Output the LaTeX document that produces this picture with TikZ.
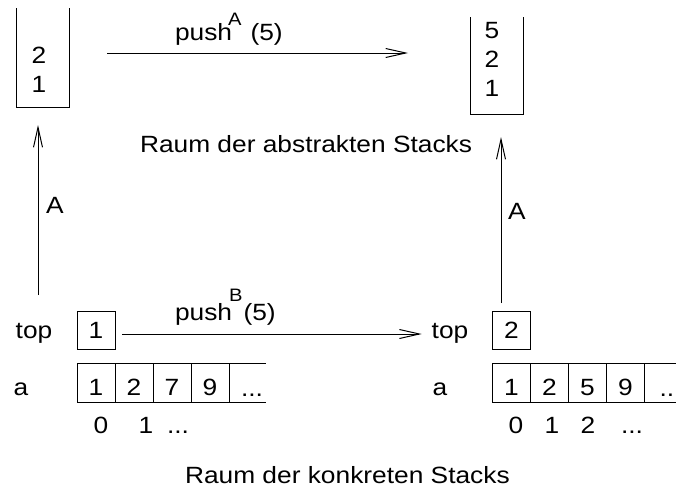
\documentclass[tikz,border=0pt]{standalone}
\usepackage{fontspec}
\setmainfont{Liberation Sans}[FakeStretch=1.12]
\usetikzlibrary{arrows.meta,positioning,calc}
\newcommand{\mainsize}{\fontsize{23.5}{28}\selectfont}
\newcommand{\supsize}{\fontsize{18}{20}\selectfont}
\begin{document}
\begin{tikzpicture}[x=1pt,y=-1pt,line width=1pt,
  every node/.style={inner sep=0pt,outer sep=0pt,font=\mainsize},
  txt/.style={anchor=base},
  stackbox/.style={minimum width=53pt},
  topbox/.style={draw,minimum width=38pt,minimum height=38pt,text height=17pt,text depth=1pt},
  cell/.style={draw,minimum width=38pt,minimum height=39pt,text height=27pt,text depth=1pt},
  arr/.style={-{Straight Barb[length=20pt,width=9pt]}}]
\useasboundingbox (0,0) rectangle (676,488);

% abstract stacks (open boxes)
\node[stackbox,minimum height=99pt] (absL) at (42.5,57.5) {};
\draw (absL.north west) |- (absL.south east) -- (absL.north east);
\node[txt] (l2) at (39,63) {2};
\node[txt] (l1) at (39,92) {1};

\node[stackbox,minimum height=97pt] (absR) at (496.5,65.5) {};
\draw (absR.north west) |- (absR.south east) -- (absR.north east);
\node[txt] (r5) at (492,38) {5};
\node[txt] (r2) at (492,67) {2};
\node[txt] (r1) at (492,96) {1};

% push on abstract stacks
\draw[arr] ([xshift=38pt,yshift=4.5pt]absL.east) -- ([xshift=-62pt,yshift=12.5pt]absR.west);
\node[anchor=base west] (pushA) at (175,40) {push\kern-4pt\raisebox{15pt}{\supsize A}\kern9pt(5)};

\node[anchor=base west] (abstr) at (140,152) {Raum der abstrakten Stacks};

% concrete stack, left
\node[txt] (topwL) at (34,338) {top};
\node[topbox] (topL) at (96,330) {1};
\node[txt] (awL) at (21,395) {a};
\node[cell] (la0) at (96,382.5) {1};
\node[cell,right=0pt of la0] (la1) {2};
\node[cell,right=0pt of la1] (la2) {7};
\node[cell,right=0pt of la2] (la3) {9};
\draw (la3.north east) -- ++(37,0);
\draw (la3.south east) -- ++(37,0);
\node[txt] (ladots) at (252,396) {...};
\node[txt] (li0) at (101,433) {0};
\node[txt] (li1) at (146,433) {1};
\node[txt] (lidots) at (178,433) {...};

% concrete stack, right
\node[txt] (topwR) at (450,338) {top};
\node[topbox] (topR) at (511.5,330) {2};
\node[txt] (awR) at (440,395) {a};
\node[cell] (ra0) at (511.5,382.5) {1};
\node[cell,right=0pt of ra0] (ra1) {2};
\node[cell,right=0pt of ra1] (ra2) {5};
\node[cell,right=0pt of ra2] (ra3) {9};
\draw (ra3.north east) -- ++(50,0);
\draw (ra3.south east) -- ++(50,0);
\node[txt] (radots) at (670.5,396) {...};
\node[txt] (ri0) at (516,433) {0};
\node[txt] (ri1) at (552,433) {1};
\node[txt] (ri2) at (588,433) {2};
\node[txt] (ridots) at (632,433) {...};

% push on concrete stacks
\draw[arr] ([xshift=7pt,yshift=-4pt]topL.east) -- ([xshift=-10pt]topwR.west |- 0,334);
\node[anchor=base west] (pushB) at (175,320) {push\kern-3pt\raisebox{19pt}{\supsize B}\kern1pt(5)};

% abstraction maps
\draw[arr] ($(topwL.base)+(4,-43)$) -- ($(absL.south)+(-4.5,18)$);
\node[txt] (mapL) at (55,213) {A};
\draw[arr] ($(topR.north)+(-10.5,-8)$) -- ($(absR.south)+(4.5,23)$);
\node[txt] (mapR) at (517,219) {A};

\node[anchor=base west] (konkr) at (185,483) {Raum der konkreten Stacks};
\end{tikzpicture}
\end{document}
